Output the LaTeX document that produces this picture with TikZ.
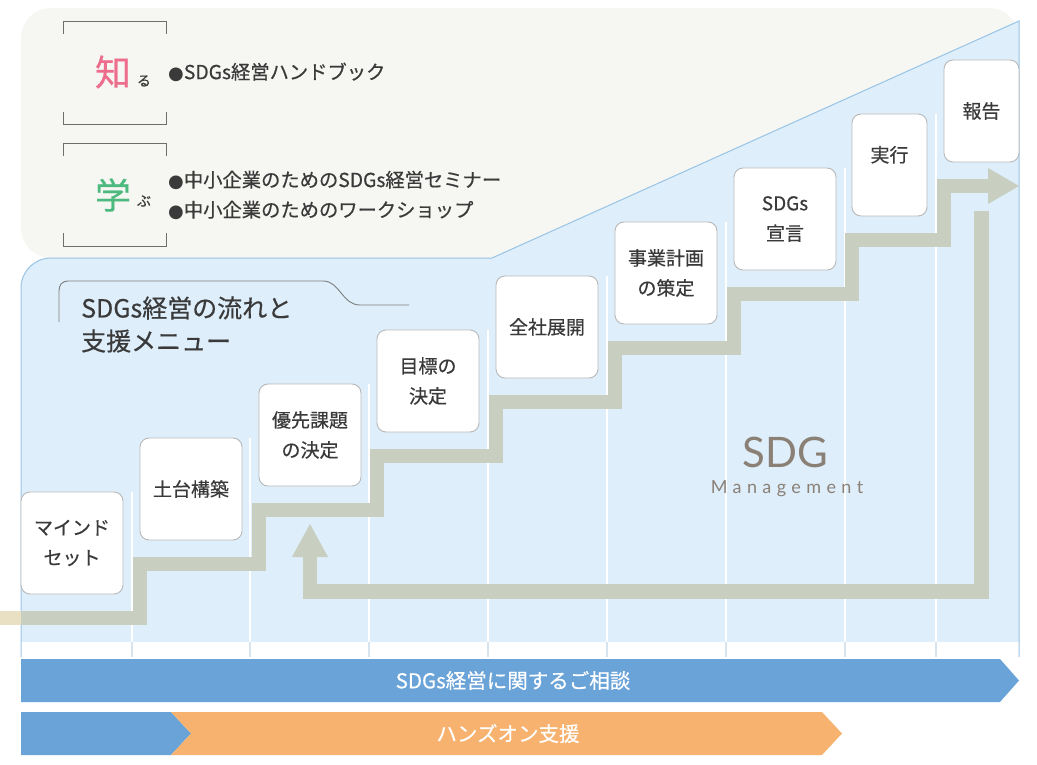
\documentclass[tikz,border=0pt]{standalone}
\usepackage{fontspec}
\setmainfont{Noto Sans CJK JP}[FakeBold=0.45]
\newfontfamily\dotfont{DejaVu Sans}
\newfontfamily\sdgfont{Lato}
\newfontfamily\mgmtfont[LetterSpace=30]{Lato}
\usetikzlibrary{arrows.meta}
\definecolor{panelgray}{RGB}{246,246,243}
\definecolor{panelblue}{RGB}{222,238,250}
\definecolor{panelline}{RGB}{152,196,230}
\definecolor{stripline}{RGB}{214,228,240}
\definecolor{band}{RGB}{200,207,193}
\definecolor{bandbeige}{RGB}{233,223,194}
\definecolor{boxline}{RGB}{185,185,185}
\definecolor{textdark}{RGB}{58,58,58}
\definecolor{pinkc}{RGB}{236,110,140}
\definecolor{greenc}{RGB}{76,186,126}
\definecolor{barblue}{RGB}{106,163,216}
\definecolor{barorange}{RGB}{246,178,110}
\definecolor{sdgcol}{RGB}{138,128,118}
\definecolor{bracketcol}{RGB}{110,110,110}
\definecolor{tabline}{RGB}{125,125,125}
\newcommand\blt{{\dotfont\fontsize{18}{18}\selectfont ●}}
\tikzset{
  stepbox/.style={draw=boxline, fill=white, line width=0.9, rounded corners=9,
    minimum width=102, minimum height=102, align=center, text=textdark,
    font=\fontsize{19}{30}\selectfont, inner sep=0},
  narrowbox/.style={stepbox, minimum width=75},
  bandline/.style={draw=band, line width=14.5},
  bracket/.style={draw=bracketcol, line width=0.9},
  bullettext/.style={anchor=west, text=textdark, font=\fontsize{19.3}{30}\selectfont, inner sep=0},
  bartext/.style={text=white, font=\fontsize{20.5}{24}\selectfont, inner sep=0},
}
\begin{document}
\begin{tikzpicture}[x=1pt,y=-1pt]
\useasboundingbox (0,0) rectangle (1037,765);
% top gray panel
\fill[panelgray, rounded corners=30] (21,8) rectangle (1019,258);
% blue panel
\fill[panelblue] (21,642) -- (21,288) .. controls (21,271.4) and (34.4,258) .. (51,258) -- (492,258) -- (1019,21) -- (1019,642) -- cycle;
\draw[panelline, line width=1] (21,657) -- (21,288) .. controls (21,271.4) and (34.4,258) .. (51,258) -- (492,258) -- (1019,21) -- (1019,657);
% column lines
\foreach \x/\t in {132/492,250/438,369/384,488/330,607/276,726/222,845/168,936/114}{
  \draw[white, line width=1.5] (\x,\t) -- (\x,642);
  \draw[stripline, line width=1.2] (\x,642) -- (\x,657);
}
% staircase band
\draw[draw=bandbeige, line width=14.5] (0,618) -- (21,618);
\draw[bandline] (21,618) -- (140,618) -- (140,564) -- (259,564) -- (259,510) -- (377,510) -- (377,456) -- (496,456) -- (496,402) -- (615,402) -- (615,348) -- (734,348) -- (734,294) -- (852,294) -- (852,240) -- (944,240) -- (944,186) -- (989,186);
\fill[band] (988,168) -- (1019,186) -- (988,204) -- cycle;
% return loop
\draw[bandline] (981.5,211) -- (981.5,591.5) -- (310,591.5) -- (310,556);
\fill[band] (292,557) -- (310,524) -- (328,557) -- cycle;
% step boxes
\node[stepbox] (s1) at (72,543) {マインド\\セット};
\node[stepbox] (s2) at (191,489) {土台構築};
\node[stepbox] (s3) at (310,435) {優先課題\\の決定};
\node[stepbox] (s4) at (428,381) {目標の\\決定};
\node[stepbox] (s5) at (547,327) {全社展開};
\node[stepbox] (s6) at (666,273) {事業計画\\の策定};
\node[stepbox] (s7) at (785,219) {SDGs\\宣言};
\node[narrowbox] (s8) at (889.5,165) {実行\\[-8pt]\mbox{}};
\node[narrowbox] (s9) at (981.5,111) {報告};
% brackets
\draw[bracket] (63,34) -- (63,21) -- (166,21) -- (166,34);
\draw[bracket] (63,112) -- (63,124) -- (166,124) -- (166,112);
\draw[bracket] (63,156) -- (63,143) -- (166,143) -- (166,156);
\draw[bracket] (63,233) -- (63,246) -- (166,246) -- (166,233);
\node[text=pinkc, font=\fontsize{36}{36}\selectfont, inner sep=0] (shiru) at (113,72) {知};
\node[text=textdark, font=\fontsize{14}{14}\selectfont, inner sep=0] (ru) at (144,81) {る};
\node[text=greenc, font=\fontsize{36}{36}\selectfont, inner sep=0] (manabu) at (113,195) {学};
\node[text=textdark, font=\fontsize{14}{14}\selectfont, inner sep=0] (bu) at (144,201) {ぶ};
\node[bullettext] (b1) at (168,72) {\blt SDGs経営ハンドブック};
\node[bullettext] (b2) at (168,180) {\blt 中小企業のためのSDGs経営セミナー};
\node[bullettext] (b3) at (168,210) {\blt 中小企業のためのワークショップ};
% title tab
\draw[draw=tabline, line width=0.9] (59,322) -- (59,291) .. controls (59,285) and (62,281) .. (68,281) -- (323,281) .. controls (340,281) and (342,305) .. (360,305) -- (409,305);
\node[anchor=west, align=left, text=textdark, font=\fontsize{25}{33}\selectfont, inner sep=0] (title) at (81,324.5) {SDGs経営の流れと\\支援メニュー};
% SDG Management
\node[anchor=base, text=sdgcol, font=\sdgfont\fontsize{42}{42}\selectfont, inner sep=0] (sdg) at (785,467) {SDG};
\node[anchor=base, text=sdgcol, font=\mgmtfont\fontsize{18}{18}\selectfont, inner sep=0] (mgmt) at (787,493) {Management};
% bottom bars
\fill[barblue] (21,659) -- (1000,659) -- (1019,680.5) -- (1000,702) -- (21,702) -- cycle;
\node[bartext] (bar1) at (513,680.5) {SDGs経営に関するご相談};
\fill[barblue] (21,712) -- (171,712) -- (191,733.5) -- (171,755) -- (21,755) -- cycle;
\fill[barorange] (171,712) -- (822,712) -- (842,733.5) -- (822,755) -- (171,755) -- (191,733.5) -- cycle;
\node[bartext] (bar2) at (508,733.5) {ハンズオン支援};
\end{tikzpicture}
\end{document}
